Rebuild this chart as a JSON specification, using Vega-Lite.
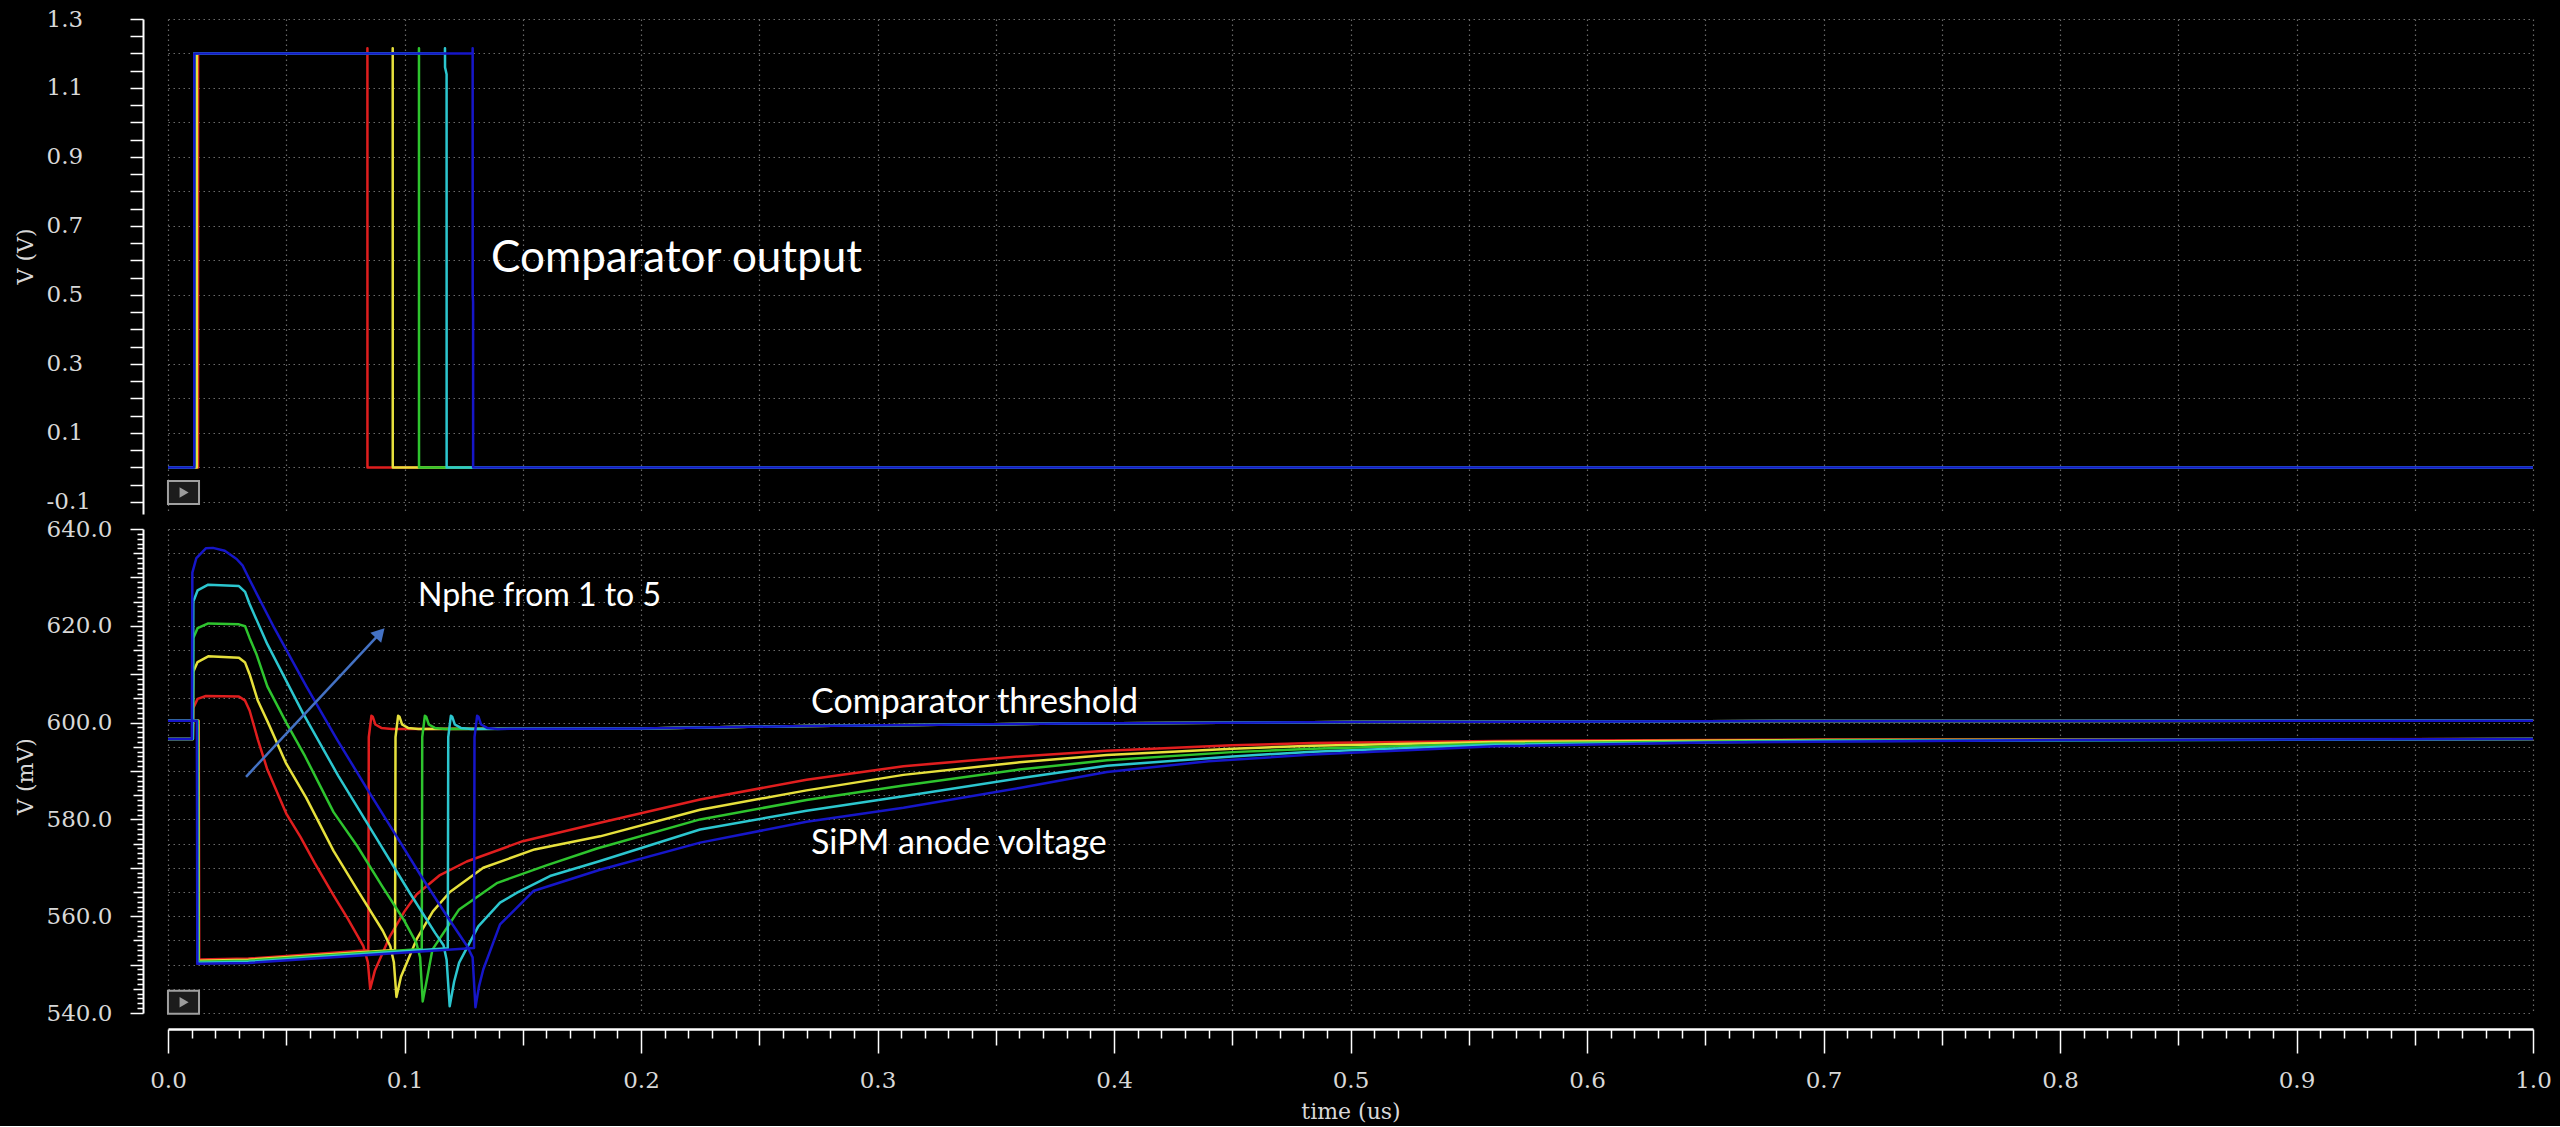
{
  "$schema": "https://vega.github.io/schema/vega-lite/v6.json",
  "background": "#000000",
  "padding": {"left": 14, "top": 8, "right": 9, "bottom": 4},
  "bounds": "flush",
  "spacing": 15,
  "config": {
    "view": {"stroke": null},
    "axis": {
      "labelFont": "DejaVu Serif",
      "titleFont": "DejaVu Serif",
      "labelColor": "#d8d8d8",
      "titleColor": "#d8d8d8",
      "labelFontSize": 23,
      "titleFontSize": 22,
      "titleFontWeight": "normal",
      "domainColor": "#ffffff",
      "tickColor": "#ffffff",
      "tickWidth": 1.5,
      "gridColor": "#6a6a6a",
      "gridDash": [1.5, 3.5],
      "gridWidth": 1.2
    }
  },
  "datasets": {
    "comp": [
      {"n": 1, "t": 0, "v": 0}, {"n": 1, "t": 0.0127, "v": 0}, {"n": 1, "t": 0.01272, "v": 1.2}, {"n": 1, "t": 0.0843, "v": 1.2}, {"n": 1, "t": 0.08432, "v": 1.215}, {"n": 1, "t": 0.08434, "v": 0}, {"n": 1, "t": 1, "v": 0},
      {"n": 2, "t": 0, "v": 0}, {"n": 2, "t": 0.0122, "v": 0}, {"n": 2, "t": 0.01222, "v": 1.2}, {"n": 2, "t": 0.095, "v": 1.2}, {"n": 2, "t": 0.09502, "v": 1.215}, {"n": 2, "t": 0.09504, "v": 0}, {"n": 2, "t": 1, "v": 0},
      {"n": 3, "t": 0, "v": 0}, {"n": 3, "t": 0.0111, "v": 0}, {"n": 3, "t": 0.01112, "v": 1.2}, {"n": 3, "t": 0.1061, "v": 1.2}, {"n": 3, "t": 0.10612, "v": 1.215}, {"n": 3, "t": 0.10614, "v": 0}, {"n": 3, "t": 1, "v": 0},
      {"n": 4, "t": 0, "v": 0}, {"n": 4, "t": 0.0111, "v": 0}, {"n": 4, "t": 0.01112, "v": 1.2}, {"n": 4, "t": 0.1171, "v": 1.2}, {"n": 4, "t": 0.11712, "v": 1.215}, {"n": 4, "t": 0.11714, "v": 1.16}, {"n": 4, "t": 0.1178, "v": 1.14}, {"n": 4, "t": 0.11782, "v": 0}, {"n": 4, "t": 1, "v": 0},
      {"n": 5, "t": 0, "v": 0}, {"n": 5, "t": 0.0111, "v": 0}, {"n": 5, "t": 0.01112, "v": 1.2}, {"n": 5, "t": 0.1288, "v": 1.2}, {"n": 5, "t": 0.12882, "v": 1.215}, {"n": 5, "t": 0.12884, "v": 0.5}, {"n": 5, "t": 0.129, "v": 0.48}, {"n": 5, "t": 0.12902, "v": 0}, {"n": 5, "t": 1, "v": 0}
    ],
    "bot": [
      {"s": "1t", "n": 1, "t": 0, "v": 600.4}, {"s": "1t", "n": 1, "t": 0.013, "v": 600.4}, {"s": "1t", "n": 1, "t": 0.0132, "v": 551.05}, {"s": "1t", "n": 1, "t": 0.034, "v": 551.25}, {"s": "1t", "n": 1, "t": 0.0847, "v": 552.95}, {"s": "1t", "n": 1, "t": 0.0849, "v": 597}, {"s": "1t", "n": 1, "t": 0.086, "v": 601.4}, {"s": "1t", "n": 1, "t": 0.0866, "v": 601.2}, {"s": "1t", "n": 1, "t": 0.0877, "v": 599.6}, {"s": "1t", "n": 1, "t": 0.0902, "v": 598.9}, {"s": "1t", "n": 1, "t": 0.0947, "v": 598.7}, {"s": "1t", "n": 1, "t": 0.2, "v": 598.8}, {"s": "1t", "n": 1, "t": 0.27, "v": 599.3}, {"s": "1t", "n": 1, "t": 0.38, "v": 599.8}, {"s": "1t", "n": 1, "t": 0.5, "v": 600.1}, {"s": "1t", "n": 1, "t": 0.65, "v": 600.3}, {"s": "1t", "n": 1, "t": 1, "v": 600.4},
      {"s": "1a", "n": 1, "t": 0, "v": 596.6}, {"s": "1a", "n": 1, "t": 0.0105, "v": 596.6}, {"s": "1a", "n": 1, "t": 0.0107, "v": 603.0}, {"s": "1a", "n": 1, "t": 0.0125, "v": 604.9}, {"s": "1a", "n": 1, "t": 0.016, "v": 605.5}, {"s": "1a", "n": 1, "t": 0.03, "v": 605.4}, {"s": "1a", "n": 1, "t": 0.0325, "v": 604.6}, {"s": "1a", "n": 1, "t": 0.0345, "v": 602.5}, {"s": "1a", "n": 1, "t": 0.038, "v": 596.5}, {"s": "1a", "n": 1, "t": 0.042, "v": 590.3}, {"s": "1a", "n": 1, "t": 0.05, "v": 581.2}, {"s": "1a", "n": 1, "t": 0.056, "v": 576.4}, {"s": "1a", "n": 1, "t": 0.062, "v": 571.0}, {"s": "1a", "n": 1, "t": 0.07, "v": 564.3}, {"s": "1a", "n": 1, "t": 0.076, "v": 559.5}, {"s": "1a", "n": 1, "t": 0.0826, "v": 553.8}, {"s": "1a", "n": 1, "t": 0.0845, "v": 550.5}, {"s": "1a", "n": 1, "t": 0.0855, "v": 545.0}, {"s": "1a", "n": 1, "t": 0.0875, "v": 548.8}, {"s": "1a", "n": 1, "t": 0.0939, "v": 555.9}, {"s": "1a", "n": 1, "t": 0.1, "v": 561.0}, {"s": "1a", "n": 1, "t": 0.1051, "v": 564.5}, {"s": "1a", "n": 1, "t": 0.115, "v": 568.5}, {"s": "1a", "n": 1, "t": 0.1263, "v": 571.3}, {"s": "1a", "n": 1, "t": 0.15, "v": 575.5}, {"s": "1a", "n": 1, "t": 0.1827, "v": 579.3}, {"s": "1a", "n": 1, "t": 0.225, "v": 584.1}, {"s": "1a", "n": 1, "t": 0.27, "v": 588.2}, {"s": "1a", "n": 1, "t": 0.311, "v": 591.0}, {"s": "1a", "n": 1, "t": 0.36, "v": 593.0}, {"s": "1a", "n": 1, "t": 0.397, "v": 594.2}, {"s": "1a", "n": 1, "t": 0.45, "v": 595.3}, {"s": "1a", "n": 1, "t": 0.484, "v": 595.8}, {"s": "1a", "n": 1, "t": 0.561, "v": 596.2}, {"s": "1a", "n": 1, "t": 0.7, "v": 596.5}, {"s": "1a", "n": 1, "t": 1, "v": 596.6},
      {"s": "2t", "n": 2, "t": 0, "v": 600.4}, {"s": "2t", "n": 2, "t": 0.0128, "v": 600.4}, {"s": "2t", "n": 2, "t": 0.013, "v": 550.82}, {"s": "2t", "n": 2, "t": 0.034, "v": 551.02}, {"s": "2t", "n": 2, "t": 0.096, "v": 553.02}, {"s": "2t", "n": 2, "t": 0.0962, "v": 597}, {"s": "2t", "n": 2, "t": 0.0973, "v": 601.4}, {"s": "2t", "n": 2, "t": 0.0979, "v": 601.2}, {"s": "2t", "n": 2, "t": 0.099, "v": 599.6}, {"s": "2t", "n": 2, "t": 0.1015, "v": 598.9}, {"s": "2t", "n": 2, "t": 0.106, "v": 598.7}, {"s": "2t", "n": 2, "t": 0.2, "v": 598.8}, {"s": "2t", "n": 2, "t": 0.27, "v": 599.3}, {"s": "2t", "n": 2, "t": 0.38, "v": 599.8}, {"s": "2t", "n": 2, "t": 0.5, "v": 600.1}, {"s": "2t", "n": 2, "t": 0.65, "v": 600.3}, {"s": "2t", "n": 2, "t": 1, "v": 600.4},
      {"s": "2a", "n": 2, "t": 0, "v": 596.6}, {"s": "2a", "n": 2, "t": 0.0105, "v": 596.6}, {"s": "2a", "n": 2, "t": 0.0107, "v": 610.5}, {"s": "2a", "n": 2, "t": 0.0125, "v": 612.5}, {"s": "2a", "n": 2, "t": 0.017, "v": 613.7}, {"s": "2a", "n": 2, "t": 0.03, "v": 613.4}, {"s": "2a", "n": 2, "t": 0.0326, "v": 612.4}, {"s": "2a", "n": 2, "t": 0.0345, "v": 610.0}, {"s": "2a", "n": 2, "t": 0.038, "v": 604.5}, {"s": "2a", "n": 2, "t": 0.0423, "v": 600.0}, {"s": "2a", "n": 2, "t": 0.05, "v": 591.5}, {"s": "2a", "n": 2, "t": 0.0584, "v": 584.5}, {"s": "2a", "n": 2, "t": 0.07, "v": 573.5}, {"s": "2a", "n": 2, "t": 0.08, "v": 565.5}, {"s": "2a", "n": 2, "t": 0.0908, "v": 557.0}, {"s": "2a", "n": 2, "t": 0.094, "v": 553.8}, {"s": "2a", "n": 2, "t": 0.0955, "v": 550.5}, {"s": "2a", "n": 2, "t": 0.0966, "v": 543.3}, {"s": "2a", "n": 2, "t": 0.0985, "v": 547.5}, {"s": "2a", "n": 2, "t": 0.1051, "v": 555.2}, {"s": "2a", "n": 2, "t": 0.112, "v": 561.0}, {"s": "2a", "n": 2, "t": 0.1192, "v": 565.0}, {"s": "2a", "n": 2, "t": 0.1333, "v": 570.0}, {"s": "2a", "n": 2, "t": 0.155, "v": 573.8}, {"s": "2a", "n": 2, "t": 0.1827, "v": 576.5}, {"s": "2a", "n": 2, "t": 0.225, "v": 582.0}, {"s": "2a", "n": 2, "t": 0.27, "v": 586.0}, {"s": "2a", "n": 2, "t": 0.311, "v": 589.2}, {"s": "2a", "n": 2, "t": 0.36, "v": 591.8}, {"s": "2a", "n": 2, "t": 0.397, "v": 593.3}, {"s": "2a", "n": 2, "t": 0.45, "v": 594.6}, {"s": "2a", "n": 2, "t": 0.484, "v": 595.2}, {"s": "2a", "n": 2, "t": 0.561, "v": 596.0}, {"s": "2a", "n": 2, "t": 0.7, "v": 596.4}, {"s": "2a", "n": 2, "t": 1, "v": 596.6},
      {"s": "3t", "n": 3, "t": 0, "v": 600.4}, {"s": "3t", "n": 3, "t": 0.0126, "v": 600.4}, {"s": "3t", "n": 3, "t": 0.0128, "v": 550.6}, {"s": "3t", "n": 3, "t": 0.034, "v": 550.8}, {"s": "3t", "n": 3, "t": 0.1073, "v": 553.2}, {"s": "3t", "n": 3, "t": 0.1075, "v": 597}, {"s": "3t", "n": 3, "t": 0.1086, "v": 601.4}, {"s": "3t", "n": 3, "t": 0.1092, "v": 601.2}, {"s": "3t", "n": 3, "t": 0.1103, "v": 599.6}, {"s": "3t", "n": 3, "t": 0.1128, "v": 598.9}, {"s": "3t", "n": 3, "t": 0.1173, "v": 598.7}, {"s": "3t", "n": 3, "t": 0.2, "v": 598.8}, {"s": "3t", "n": 3, "t": 0.27, "v": 599.3}, {"s": "3t", "n": 3, "t": 0.38, "v": 599.8}, {"s": "3t", "n": 3, "t": 0.5, "v": 600.1}, {"s": "3t", "n": 3, "t": 0.65, "v": 600.3}, {"s": "3t", "n": 3, "t": 1, "v": 600.4},
      {"s": "3a", "n": 3, "t": 0, "v": 596.6}, {"s": "3a", "n": 3, "t": 0.0105, "v": 596.6}, {"s": "3a", "n": 3, "t": 0.0107, "v": 617.5}, {"s": "3a", "n": 3, "t": 0.0125, "v": 619.5}, {"s": "3a", "n": 3, "t": 0.017, "v": 620.5}, {"s": "3a", "n": 3, "t": 0.03, "v": 620.3}, {"s": "3a", "n": 3, "t": 0.0326, "v": 619.9}, {"s": "3a", "n": 3, "t": 0.0345, "v": 617.5}, {"s": "3a", "n": 3, "t": 0.0375, "v": 614.0}, {"s": "3a", "n": 3, "t": 0.042, "v": 607.5}, {"s": "3a", "n": 3, "t": 0.05, "v": 600.0}, {"s": "3a", "n": 3, "t": 0.058, "v": 593.0}, {"s": "3a", "n": 3, "t": 0.07, "v": 581.5}, {"s": "3a", "n": 3, "t": 0.08, "v": 574.5}, {"s": "3a", "n": 3, "t": 0.0908, "v": 566.0}, {"s": "3a", "n": 3, "t": 0.1, "v": 559.0}, {"s": "3a", "n": 3, "t": 0.105, "v": 554.5}, {"s": "3a", "n": 3, "t": 0.1066, "v": 551.5}, {"s": "3a", "n": 3, "t": 0.1077, "v": 542.4}, {"s": "3a", "n": 3, "t": 0.1095, "v": 547.0}, {"s": "3a", "n": 3, "t": 0.1118, "v": 553.1}, {"s": "3a", "n": 3, "t": 0.1231, "v": 561.4}, {"s": "3a", "n": 3, "t": 0.1393, "v": 566.9}, {"s": "3a", "n": 3, "t": 0.16, "v": 570.5}, {"s": "3a", "n": 3, "t": 0.1814, "v": 574.0}, {"s": "3a", "n": 3, "t": 0.225, "v": 580.0}, {"s": "3a", "n": 3, "t": 0.27, "v": 584.0}, {"s": "3a", "n": 3, "t": 0.311, "v": 587.0}, {"s": "3a", "n": 3, "t": 0.36, "v": 590.3}, {"s": "3a", "n": 3, "t": 0.397, "v": 592.2}, {"s": "3a", "n": 3, "t": 0.45, "v": 593.9}, {"s": "3a", "n": 3, "t": 0.484, "v": 594.6}, {"s": "3a", "n": 3, "t": 0.561, "v": 595.7}, {"s": "3a", "n": 3, "t": 0.7, "v": 596.3}, {"s": "3a", "n": 3, "t": 1, "v": 596.6},
      {"s": "4t", "n": 4, "t": 0, "v": 600.4}, {"s": "4t", "n": 4, "t": 0.0124, "v": 600.4}, {"s": "4t", "n": 4, "t": 0.0126, "v": 550.38}, {"s": "4t", "n": 4, "t": 0.034, "v": 550.58}, {"s": "4t", "n": 4, "t": 0.1183, "v": 553.38}, {"s": "4t", "n": 4, "t": 0.1185, "v": 597}, {"s": "4t", "n": 4, "t": 0.1196, "v": 601.4}, {"s": "4t", "n": 4, "t": 0.1202, "v": 601.2}, {"s": "4t", "n": 4, "t": 0.1213, "v": 599.6}, {"s": "4t", "n": 4, "t": 0.1238, "v": 598.9}, {"s": "4t", "n": 4, "t": 0.1283, "v": 598.7}, {"s": "4t", "n": 4, "t": 0.2, "v": 598.8}, {"s": "4t", "n": 4, "t": 0.27, "v": 599.3}, {"s": "4t", "n": 4, "t": 0.38, "v": 599.8}, {"s": "4t", "n": 4, "t": 0.5, "v": 600.1}, {"s": "4t", "n": 4, "t": 0.65, "v": 600.3}, {"s": "4t", "n": 4, "t": 1, "v": 600.4},
      {"s": "4a", "n": 4, "t": 0, "v": 596.6}, {"s": "4a", "n": 4, "t": 0.0105, "v": 596.6}, {"s": "4a", "n": 4, "t": 0.0107, "v": 625.0}, {"s": "4a", "n": 4, "t": 0.0125, "v": 627.3}, {"s": "4a", "n": 4, "t": 0.017, "v": 628.5}, {"s": "4a", "n": 4, "t": 0.03, "v": 628.2}, {"s": "4a", "n": 4, "t": 0.0326, "v": 627.0}, {"s": "4a", "n": 4, "t": 0.0345, "v": 624.5}, {"s": "4a", "n": 4, "t": 0.042, "v": 616.2}, {"s": "4a", "n": 4, "t": 0.057, "v": 602.0}, {"s": "4a", "n": 4, "t": 0.072, "v": 589.0}, {"s": "4a", "n": 4, "t": 0.087, "v": 577.0}, {"s": "4a", "n": 4, "t": 0.102, "v": 565.0}, {"s": "4a", "n": 4, "t": 0.113, "v": 556.5}, {"s": "4a", "n": 4, "t": 0.1165, "v": 554.0}, {"s": "4a", "n": 4, "t": 0.1178, "v": 551.0}, {"s": "4a", "n": 4, "t": 0.1191, "v": 541.4}, {"s": "4a", "n": 4, "t": 0.121, "v": 546.5}, {"s": "4a", "n": 4, "t": 0.1231, "v": 550.4}, {"s": "4a", "n": 4, "t": 0.1312, "v": 557.9}, {"s": "4a", "n": 4, "t": 0.1404, "v": 562.8}, {"s": "4a", "n": 4, "t": 0.1474, "v": 564.8}, {"s": "4a", "n": 4, "t": 0.1615, "v": 568.3}, {"s": "4a", "n": 4, "t": 0.182, "v": 571.3}, {"s": "4a", "n": 4, "t": 0.225, "v": 577.9}, {"s": "4a", "n": 4, "t": 0.27, "v": 581.8}, {"s": "4a", "n": 4, "t": 0.311, "v": 584.8}, {"s": "4a", "n": 4, "t": 0.36, "v": 588.5}, {"s": "4a", "n": 4, "t": 0.397, "v": 591.1}, {"s": "4a", "n": 4, "t": 0.45, "v": 593.0}, {"s": "4a", "n": 4, "t": 0.484, "v": 594.0}, {"s": "4a", "n": 4, "t": 0.561, "v": 595.4}, {"s": "4a", "n": 4, "t": 0.7, "v": 596.2}, {"s": "4a", "n": 4, "t": 1, "v": 596.6},
      {"s": "5t", "n": 5, "t": 0, "v": 600.4}, {"s": "5t", "n": 5, "t": 0.0122, "v": 600.4}, {"s": "5t", "n": 5, "t": 0.0124, "v": 550.15}, {"s": "5t", "n": 5, "t": 0.034, "v": 550.35}, {"s": "5t", "n": 5, "t": 0.1294, "v": 553.45}, {"s": "5t", "n": 5, "t": 0.1296, "v": 597}, {"s": "5t", "n": 5, "t": 0.1307, "v": 601.4}, {"s": "5t", "n": 5, "t": 0.1313, "v": 601.2}, {"s": "5t", "n": 5, "t": 0.1324, "v": 599.6}, {"s": "5t", "n": 5, "t": 0.1349, "v": 598.9}, {"s": "5t", "n": 5, "t": 0.1394, "v": 598.7}, {"s": "5t", "n": 5, "t": 0.2, "v": 598.8}, {"s": "5t", "n": 5, "t": 0.27, "v": 599.3}, {"s": "5t", "n": 5, "t": 0.38, "v": 599.8}, {"s": "5t", "n": 5, "t": 0.5, "v": 600.1}, {"s": "5t", "n": 5, "t": 0.65, "v": 600.3}, {"s": "5t", "n": 5, "t": 1, "v": 600.4},
      {"s": "5a", "n": 5, "t": 0, "v": 596.6}, {"s": "5a", "n": 5, "t": 0.0101, "v": 596.6}, {"s": "5a", "n": 5, "t": 0.0103, "v": 631.0}, {"s": "5a", "n": 5, "t": 0.012, "v": 634.0}, {"s": "5a", "n": 5, "t": 0.016, "v": 636.0}, {"s": "5a", "n": 5, "t": 0.019, "v": 636.1}, {"s": "5a", "n": 5, "t": 0.024, "v": 635.5}, {"s": "5a", "n": 5, "t": 0.029, "v": 633.8}, {"s": "5a", "n": 5, "t": 0.0315, "v": 632.5}, {"s": "5a", "n": 5, "t": 0.0345, "v": 629.5}, {"s": "5a", "n": 5, "t": 0.045, "v": 619.5}, {"s": "5a", "n": 5, "t": 0.0585, "v": 607.5}, {"s": "5a", "n": 5, "t": 0.0715, "v": 596.5}, {"s": "5a", "n": 5, "t": 0.0843, "v": 586.2}, {"s": "5a", "n": 5, "t": 0.096, "v": 577.0}, {"s": "5a", "n": 5, "t": 0.107, "v": 568.3}, {"s": "5a", "n": 5, "t": 0.118, "v": 560.0}, {"s": "5a", "n": 5, "t": 0.1265, "v": 553.8}, {"s": "5a", "n": 5, "t": 0.1288, "v": 551.5}, {"s": "5a", "n": 5, "t": 0.13, "v": 541.2}, {"s": "5a", "n": 5, "t": 0.1315, "v": 545.5}, {"s": "5a", "n": 5, "t": 0.1333, "v": 549.0}, {"s": "5a", "n": 5, "t": 0.1404, "v": 558.3}, {"s": "5a", "n": 5, "t": 0.1545, "v": 565.2}, {"s": "5a", "n": 5, "t": 0.1827, "v": 569.6}, {"s": "5a", "n": 5, "t": 0.225, "v": 575.2}, {"s": "5a", "n": 5, "t": 0.27, "v": 579.5}, {"s": "5a", "n": 5, "t": 0.311, "v": 582.4}, {"s": "5a", "n": 5, "t": 0.36, "v": 586.5}, {"s": "5a", "n": 5, "t": 0.397, "v": 589.8}, {"s": "5a", "n": 5, "t": 0.44, "v": 592.0}, {"s": "5a", "n": 5, "t": 0.484, "v": 593.4}, {"s": "5a", "n": 5, "t": 0.561, "v": 595.1}, {"s": "5a", "n": 5, "t": 0.65, "v": 595.9}, {"s": "5a", "n": 5, "t": 0.8, "v": 596.4}, {"s": "5a", "n": 5, "t": 1, "v": 596.6}
    ]
  },
  "vconcat": [
    {
      "width": 2365,
      "height": 495,
      "encoding": {
        "x": {
          "field": "t", "type": "quantitative",
          "scale": {"domain": [0, 1], "nice": false, "zero": false},
          "axis": {"orient": "bottom", "values": [0, 0.05, 0.1, 0.15, 0.2, 0.25, 0.3, 0.35, 0.4, 0.45, 0.5, 0.55, 0.6, 0.65, 0.7, 0.75, 0.8, 0.85, 0.9, 0.95, 1], "grid": true, "domain": false, "ticks": false, "labels": false, "title": null}
        },
        "y": {
          "field": "v", "type": "quantitative",
          "scale": {"domain": [-0.135, 1.3], "nice": false, "zero": false},
          "axis": {
            "values": [-0.1, -0.05, 0, 0.05, 0.1, 0.15, 0.2, 0.25, 0.3, 0.35, 0.4, 0.45, 0.5, 0.55, 0.6, 0.65, 0.7, 0.75, 0.8, 0.85, 0.9, 0.95, 1, 1.05, 1.1, 1.15, 1.2, 1.25, 1.3],
            "title": "V (V)",
            "offset": 25,
            "tickSize": 13,
            "labelPadding": 84,
            "labelAlign": "left",
            "labelBaseline": "middle",
            "labelFlush": false,
            "labelOverlap": false,
            "labelBound": false,
            "labelExpr": "abs((datum.value+0.1)*5-round((datum.value+0.1)*5))<0.001 ? replace(format(datum.value,'.1f'),'\u2212','-') : ''",
            "gridOpacity": {"condition": {"test": "abs(datum.value*10-round(datum.value*10))<0.001", "value": 1}, "value": 0},
            "domainWidth": 2,
            "titleX": -118,
            "titleY": 237,
            "titleAngle": -90,
            "titleAlign": "center",
            "titleBaseline": "middle"
          }
        }
      },
      "layer": [
        {
          "data": {"name": "comp"},
          "mark": {"type": "line", "strokeWidth": 2.5, "strokeJoin": "round"},
          "encoding": {
            "color": {"field": "n", "type": "nominal", "scale": {"domain": [1, 2, 3, 4, 5], "range": ["#e01e1e", "#e6e03c", "#2ec42e", "#2cc6cf", "#1616c8"]}, "legend": null}
          }
        },
        {
          "data": {"values": [{"t": 0.1366, "v": 0.604, "label": "Comparator output"}]},
          "mark": {"type": "text", "align": "left", "baseline": "middle", "font": "Lato", "fontSize": 44, "color": "#ffffff"},
          "encoding": {"text": {"field": "label"}}
        },
        {
          "data": {"values": [{"t": 0.00655, "v": -0.073}]},
          "mark": {"type": "point", "shape": "M-1.35,-1L1.35,-1L1.35,1L-1.35,1Z", "size": 529, "filled": true, "fill": "#1c1c1c", "stroke": "#a0a0a0", "strokeWidth": 2, "opacity": 1}
        },
        {
          "data": {"values": [{"t": 0.0068, "v": -0.073}]},
          "mark": {"type": "point", "shape": "triangle-right", "size": 110, "filled": true, "color": "#9c9c9c", "opacity": 1}
        }
      ]
    },
    {
      "width": 2365,
      "height": 484,
      "encoding": {
        "x": {
          "field": "t", "type": "quantitative",
          "scale": {"domain": [0, 1], "nice": false, "zero": false},
          "axis": {
            "orient": "bottom",
            "values": [0, 0.01, 0.02, 0.03, 0.04, 0.05, 0.06, 0.07, 0.08, 0.09, 0.1, 0.11, 0.12, 0.13, 0.14, 0.15, 0.16, 0.17, 0.18, 0.19, 0.2, 0.21, 0.22, 0.23, 0.24, 0.25, 0.26, 0.27, 0.28, 0.29, 0.3, 0.31, 0.32, 0.33, 0.34, 0.35, 0.36, 0.37, 0.38, 0.39, 0.4, 0.41, 0.42, 0.43, 0.44, 0.45, 0.46, 0.47, 0.48, 0.49, 0.5, 0.51, 0.52, 0.53, 0.54, 0.55, 0.56, 0.57, 0.58, 0.59, 0.6, 0.61, 0.62, 0.63, 0.64, 0.65, 0.66, 0.67, 0.68, 0.69, 0.7, 0.71, 0.72, 0.73, 0.74, 0.75, 0.76, 0.77, 0.78, 0.79, 0.8, 0.81, 0.82, 0.83, 0.84, 0.85, 0.86, 0.87, 0.88, 0.89, 0.9, 0.91, 0.92, 0.93, 0.94, 0.95, 0.96, 0.97, 0.98, 0.99, 1],
            "title": "time (us)",
            "offset": 16,
            "grid": true,
            "gridOpacity": {"condition": {"test": "abs(datum.value*20-round(datum.value*20))<0.001", "value": 1}, "value": 0},
            "tickSize": {"condition": [{"test": "abs(datum.value*10-round(datum.value*10))<0.001", "value": 24}, {"test": "abs(datum.value*20-round(datum.value*20))<0.001", "value": 16}], "value": 9},
            "labelExpr": "abs(datum.value*10-round(datum.value*10))<0.001 ? format(datum.value,'.1f') : ''",
            "labelPadding": 16,
            "labelFlush": false,
            "labelOverlap": false,
            "labelBound": false,
            "domainWidth": 2.5,
            "titleY": 82,
            "titleBaseline": "middle"
          }
        },
        "y": {
          "field": "v", "type": "quantitative",
          "scale": {"domain": [540, 640], "nice": false, "zero": false},
          "axis": {
            "values": [540, 541, 542, 543, 544, 545, 546, 547, 548, 549, 550, 551, 552, 553, 554, 555, 556, 557, 558, 559, 560, 561, 562, 563, 564, 565, 566, 567, 568, 569, 570, 571, 572, 573, 574, 575, 576, 577, 578, 579, 580, 581, 582, 583, 584, 585, 586, 587, 588, 589, 590, 591, 592, 593, 594, 595, 596, 597, 598, 599, 600, 601, 602, 603, 604, 605, 606, 607, 608, 609, 610, 611, 612, 613, 614, 615, 616, 617, 618, 619, 620, 621, 622, 623, 624, 625, 626, 627, 628, 629, 630, 631, 632, 633, 634, 635, 636, 637, 638, 639, 640],
            "title": "V (mV)",
            "offset": 25,
            "tickSize": {"condition": [{"test": "datum.value % 10 === 0", "value": 13}, {"test": "datum.value % 5 === 0", "value": 10}], "value": 6},
            "labelPadding": 84,
            "labelAlign": "left",
            "labelBaseline": "middle",
            "labelFlush": false,
            "labelOverlap": false,
            "labelBound": false,
            "labelExpr": "datum.value % 20 === 0 ? format(datum.value,'.1f') : ''",
            "grid": true,
            "gridOpacity": {"condition": {"test": "datum.value % 5 === 0", "value": 1}, "value": 0},
            "domainWidth": 2,
            "titleX": -118,
            "titleY": 247,
            "titleAngle": -90,
            "titleAlign": "center",
            "titleBaseline": "middle"
          }
        }
      },
      "layer": [
        {
          "data": {"name": "bot"},
          "mark": {"type": "line", "strokeWidth": 2.5, "strokeJoin": "round"},
          "encoding": {
            "color": {"field": "n", "type": "nominal", "scale": {"domain": [1, 2, 3, 4, 5], "range": ["#e01e1e", "#e6e03c", "#2ec42e", "#2cc6cf", "#1616c8"]}, "legend": null},
            "detail": {"field": "s", "type": "nominal"}
          }
        },
        {
          "data": {"values": [{"t": 0.033, "v": 588.8, "t2": 0.0897, "v2": 618.5}]},
          "mark": {"type": "rule", "color": "#4472C4", "strokeWidth": 2.5},
          "encoding": {"x2": {"field": "t2"}, "y2": {"field": "v2"}}
        },
        {
          "data": {"values": [{"t": 0.0897, "v": 618.5}]},
          "mark": {"type": "point", "shape": "triangle-up", "angle": 43, "size": 220, "filled": true, "color": "#4472C4", "opacity": 1}
        },
        {
          "data": {"values": [{"t": 0.1057, "v": 626.2, "label": "Nphe from 1 to 5"}]},
          "mark": {"type": "text", "align": "left", "baseline": "middle", "font": "Lato", "fontSize": 32, "color": "#ffffff"},
          "encoding": {"text": {"field": "label"}}
        },
        {
          "data": {"values": [{"t": 0.2719, "v": 604.0, "label": "Comparator threshold"}]},
          "mark": {"type": "text", "align": "left", "baseline": "middle", "font": "Lato", "fontSize": 34, "color": "#ffffff"},
          "encoding": {"text": {"field": "label"}}
        },
        {
          "data": {"values": [{"t": 0.2719, "v": 574.9, "label": "SiPM anode voltage"}]},
          "mark": {"type": "text", "align": "left", "baseline": "middle", "font": "Lato", "fontSize": 34, "color": "#ffffff"},
          "encoding": {"text": {"field": "label"}}
        },
        {
          "data": {"values": [{"t": 0.00655, "v": 542.2}]},
          "mark": {"type": "point", "shape": "M-1.35,-1L1.35,-1L1.35,1L-1.35,1Z", "size": 529, "filled": true, "fill": "#1c1c1c", "stroke": "#a0a0a0", "strokeWidth": 2, "opacity": 1}
        },
        {
          "data": {"values": [{"t": 0.0068, "v": 542.2}]},
          "mark": {"type": "point", "shape": "triangle-right", "size": 110, "filled": true, "color": "#9c9c9c", "opacity": 1}
        }
      ]
    }
  ]
}
